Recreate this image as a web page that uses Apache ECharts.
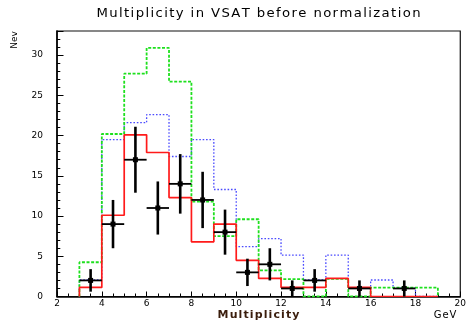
<!DOCTYPE html>
<html>
<head>
<meta charset="utf-8">
<script src="https://cdn.jsdelivr.net/npm/echarts@6/dist/echarts.min.js"></script>
<style>
  html, body { margin: 0; padding: 0; background: #fff; }
  #chart { width: 469px; height: 325px; }
</style>
</head>
<body>
<div id="chart"></div>
<script>
// Bin edges of the multiplicity histograms (unit-wide bins from 3 to 19)
const binEdges = [3, 4, 5, 6, 7, 8, 9, 10, 11, 12, 13, 14, 15, 16, 17, 18, 19];

// Simulated distributions, one value per bin
const redHist   = [1.13, 10.1, 20.1, 17.9, 12.3, 6.8, 9.0, 4.5, 2.25, 1.13, 1.13, 2.25, 1.13, 0, 0, 0];
const greenHist = [4.26, 20.2, 27.7, 30.9, 26.7, 11.8, 7.5, 9.6, 3.25, 2.15, 0, 2.2, 0, 1.1, 1.1, 1.1];
const blueHist  = [2.05, 19.5, 21.6, 22.6, 17.4, 19.5, 13.3, 6.2, 7.2, 5.15, 2.05, 5.15, 1.03, 2.05, 1.03, 0];

// Measured data points: bin centre, counts and statistical error
const dataX   = [3.5, 4.5, 5.5, 6.5, 7.5, 8.5, 9.5, 10.5, 11.5, 12.5, 13.5, 15.5, 17.5];
const dataY   = [2, 9, 17, 11, 14, 12, 8, 3, 4, 1, 2, 1, 1];
const dataErr = [1.4, 3.0, 4.1, 3.3, 3.7, 3.5, 2.8, 1.7, 2.0, 1.0, 1.4, 1.0, 1.0];

// Axis tick labels
const xTickLabels = [2, 4, 6, 8, 10, 12, 14, 16, 18, 20];
const yTickLabels = [0, 5, 10, 15, 20, 25, 30];

const titleText = 'Multiplicity in VSAT before normalization';
const xName = 'Multiplicity';
const xUnit = 'GeV';
const yName = 'Nev';

// Turn bin contents into step-line points (closed down to the baseline)
function stepData(vals) {
  const pts = [[binEdges[0], 0]];
  vals.forEach((v, i) => pts.push([binEdges[i], v]));
  pts.push([binEdges[binEdges.length - 1], 0]);
  return pts;
}

// Letter-spaced text via one rich token per character
function spaced(str, key) {
  return str.split('').map(ch => '{' + key + '|' + ch + '}').join('');
}

const FONT = 'DejaVu Sans';
const gridBox = { left: 57, top: 31, width: 404, height: 265.5 };

const chart = echarts.init(document.getElementById('chart'), null, { renderer: 'canvas' });

chart.setOption({
  animation: false,
  backgroundColor: '#fff',
  grid: [
    Object.assign({ show: true, borderColor: '#111', borderWidth: 1.2, backgroundColor: 'transparent' }, gridBox),
    Object.assign({ show: false }, gridBox)
  ],
  xAxis: [
    {
      type: 'value', gridIndex: 0, min: 2, max: 20, interval: 2,
      axisLine: { onZero: false, lineStyle: { color: '#000', width: 1.6 } },
      axisTick: { inside: true, length: 5, lineStyle: { color: '#000', width: 1 } },
      minorTick: { show: true, splitNumber: 4, length: 3, lineStyle: { color: '#000', width: 1 } },
      axisLabel: {
        fontFamily: FONT, fontSize: 9, color: '#000', margin: 3,
        formatter: v => (xTickLabels.indexOf(v) >= 0 ? String(v) : '')
      },
      splitLine: { show: false }
    },
    { type: 'value', gridIndex: 1, min: 2, max: 20, show: false }
  ],
  yAxis: [
    {
      type: 'value', gridIndex: 0, min: 0, max: 33, interval: 5,
      axisLine: { onZero: false, lineStyle: { color: '#000', width: 1.6 } },
      axisTick: { inside: true, length: 6.5, lineStyle: { color: '#000', width: 1 } },
      axisLabel: {
        fontFamily: FONT, fontSize: 9, color: '#000', margin: 14,
        formatter: v => (yTickLabels.indexOf(v) >= 0 ? String(v) : '')
      },
      splitLine: { show: false }
    },
    {
      type: 'value', gridIndex: 1, min: 0, max: 33, interval: 1,
      axisLine: { show: false },
      axisTick: { show: true, inside: true, length: 3.3, lineStyle: { color: '#000', width: 1 } },
      axisLabel: { show: false },
      splitLine: { show: false }
    }
  ],
  graphic: [
    {
      type: 'text', x: 258.5, y: 14.5, scaleX: 1.15,
      style: {
        text: spaced(titleText, 't'),
        align: 'center', verticalAlign: 'middle',
        rich: { t: { fontFamily: FONT, fontSize: 11.5, fill: '#000', padding: [0, 0.6, 0, 0.6] } }
      }
    },
    {
      type: 'text', x: 258.5, y: 315.5,
      style: {
        text: spaced(xName, 'm'),
        align: 'center', verticalAlign: 'middle',
        rich: { m: { fontFamily: FONT, fontSize: 11, fontWeight: 'bold', fill: '#3a1d0c', padding: [0, 0.55, 0, 0.55] } }
      }
    },
    {
      type: 'text', x: 445, y: 315.5,
      style: {
        text: spaced(xUnit, 'g'),
        align: 'center', verticalAlign: 'middle',
        rich: { g: { fontFamily: FONT, fontSize: 10, fill: '#000', padding: [0, 0.5, 0, 0.5] } }
      }
    },
    {
      type: 'text', x: 15, y: 40, rotation: Math.PI / 2,
      style: {
        text: yName, fontFamily: FONT, fontSize: 9, fill: '#000',
        align: 'center', verticalAlign: 'middle'
      }
    }
  ],
  series: [
    {
      name: 'blue', type: 'line', step: 'end', symbol: 'none',
      data: stepData(blueHist),
      lineStyle: { color: '#4a4aff', width: 1.3, type: [1.6, 1.8] },
      z: 3
    },
    {
      name: 'green', type: 'line', step: 'end', symbol: 'none',
      data: stepData(greenHist),
      lineStyle: { color: '#1ee01e', width: 1.8, type: [3, 1.6] },
      z: 4
    },
    {
      name: 'red', type: 'line', step: 'end', symbol: 'none',
      data: stepData(redHist),
      lineStyle: { color: '#ff1a1a', width: 1.7 },
      z: 5
    },
    {
      name: 'data', type: 'custom',
      data: dataX.map((x, i) => [x, dataY[i], dataErr[i]]),
      encode: { x: 0, y: 1 },
      renderItem: function (params, api) {
        const x = api.value(0), y = api.value(1), e = api.value(2);
        const c = api.coord([x, y]);
        const l = api.coord([x - 0.5, y]);
        const r = api.coord([x + 0.5, y]);
        const t = api.coord([x, y + e]);
        const b = api.coord([x, y - e]);
        return {
          type: 'group',
          children: [
            { type: 'line', shape: { x1: l[0], y1: l[1], x2: r[0], y2: r[1] }, style: { stroke: '#000', lineWidth: 1.8 } },
            { type: 'line', shape: { x1: t[0], y1: t[1], x2: b[0], y2: b[1] }, style: { stroke: '#000', lineWidth: 2.6 } },
            { type: 'rect', shape: { x: c[0] - 2.5, y: c[1] - 2.5, width: 5, height: 5 }, style: { fill: '#000' } }
          ]
        };
      },
      z: 10
    }
  ]
});
</script>
</body>
</html>
